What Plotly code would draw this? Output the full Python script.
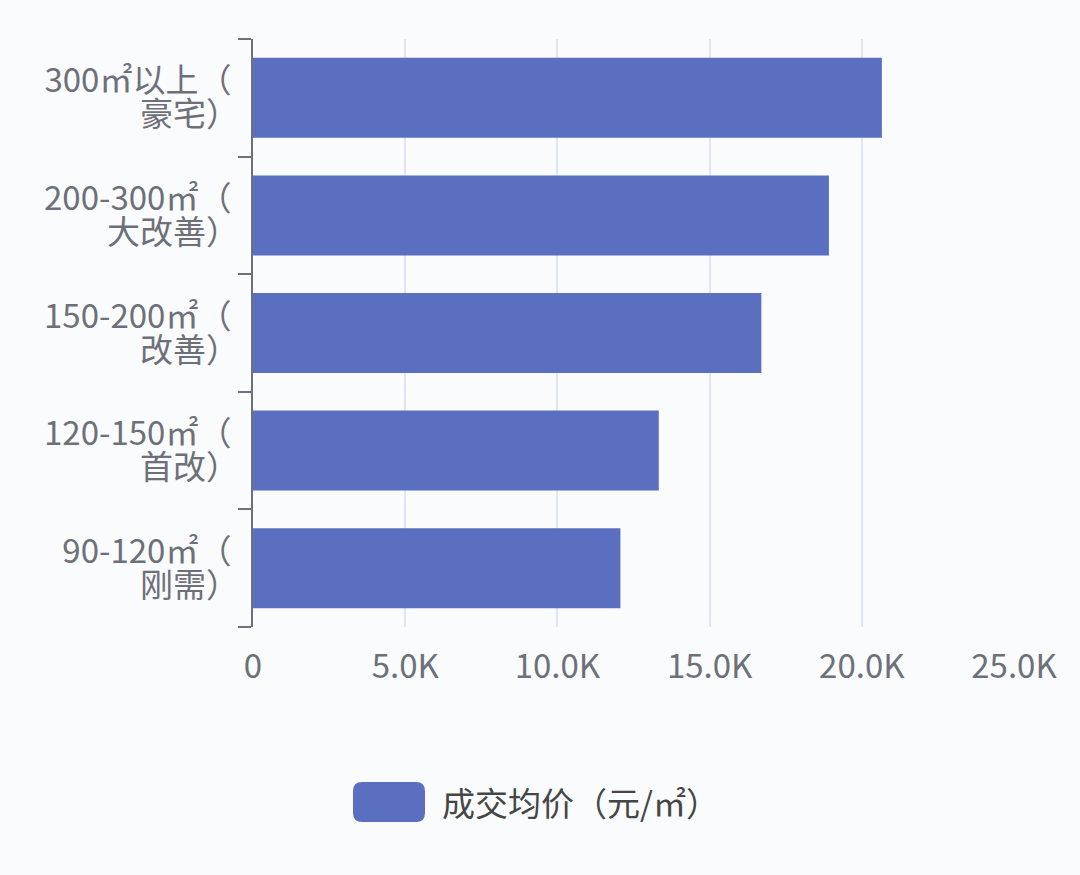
import plotly.graph_objects as go

# data (bottom to top); each label is two lines
label_line1 = ["90-120㎡（", "120-150㎡（", "150-200㎡（", "200-300㎡（", "300㎡以上（"]
label_line2 = ["刚需）", "首改）", "改善）", "大改善）", "豪宅）"]
avg_price = [12070, 13330, 16700, 18920, 20660]
series_name = "成交均价（元/㎡）"
x_tickvals = [0, 5000, 10000, 15000, 20000, 25000]
x_ticktext = ["0", "5.0K", "10.0K", "15.0K", "20.0K", "25.0K"]

categories = [a + b for a, b in zip(label_line1, label_line2)]

bar_color = "#5a6fc0"
grey = "#6e7079"
font_name = "Noto Sans CJK SC"
lab_size = 33

fig = go.Figure()
fig.add_trace(go.Bar(
    x=avg_price, y=categories, orientation="h",
    marker=dict(color=bar_color, line=dict(width=0)),
    name=series_name, showlegend=False, hoverinfo="x+y",
))
# invisible helper so the second label row has the same categories
fig.add_trace(go.Scatter(
    x=avg_price, y=categories, yaxis="y2", mode="markers",
    marker=dict(opacity=0), showlegend=False, hoverinfo="skip",
))

cat_range = [-0.5, len(categories) - 0.5]

fig.update_layout(
    width=1080, height=875,
    margin=dict(l=253, r=66, t=39, b=248),
    paper_bgcolor="#f9fbfd", plot_bgcolor="#f9fbfd",
    font=dict(family=font_name, color=grey, size=lab_size),
    bargap=0.32,
    xaxis=dict(
        range=[0, 25000], tickvals=x_tickvals, ticktext=x_ticktext,
        showgrid=True, gridcolor="#e0e6f1", gridwidth=2,
        zeroline=False, showline=False, ticks="",
        ticklabelstandoff=17, tickfont=dict(size=33, color=grey),
    ),
    yaxis=dict(
        type="category", categoryorder="array", categoryarray=categories,
        range=cat_range, tickvals=categories, ticktext=label_line1,
        showline=True, linecolor=grey, linewidth=2,
        ticks="outside", tickson="boundaries", ticklen=13, tickwidth=2, tickcolor=grey,
        showgrid=False, zeroline=False,
        ticklabelstandoff=13, ticklabelshift=-17,
        tickfont=dict(size=lab_size, color=grey),
    ),
    yaxis2=dict(
        type="category", categoryorder="array", categoryarray=categories,
        range=cat_range, tickvals=categories, ticktext=label_line2,
        overlaying="y", side="left", showline=False,
        ticks="outside", tickson="boundaries", ticklen=13, tickwidth=2,
        tickcolor="rgba(0,0,0,0)",
        showgrid=False, zeroline=False,
        ticklabelstandoff=13, ticklabelshift=17,
        tickfont=dict(size=lab_size, color=grey),
    ),
)

# legend drawn as rounded swatch + text
sw_x, sw_y = 0.1787, -0.2976
fig.add_shape(
    type="path", xref="paper", yref="paper",
    xsizemode="pixel", ysizemode="pixel", xanchor=sw_x, yanchor=sw_y,
    path="M -27,-20 H 27 Q 36,-20 36,-11 V 11 Q 36,20 27,20 H -27 Q -36,20 -36,11 V -11 Q -36,-20 -27,-20 Z",
    fillcolor=bar_color, line=dict(width=0),
)
fig.add_annotation(
    text=series_name, xref="paper", yref="paper", x=0.2457, y=sw_y,
    xanchor="left", yanchor="middle", showarrow=False,
    font=dict(family=font_name, size=33, color="#464646"),
)

fig.write_html("out.html", config={"displayModeBar": False},
               post_script="document.body.style.margin='0px';")
